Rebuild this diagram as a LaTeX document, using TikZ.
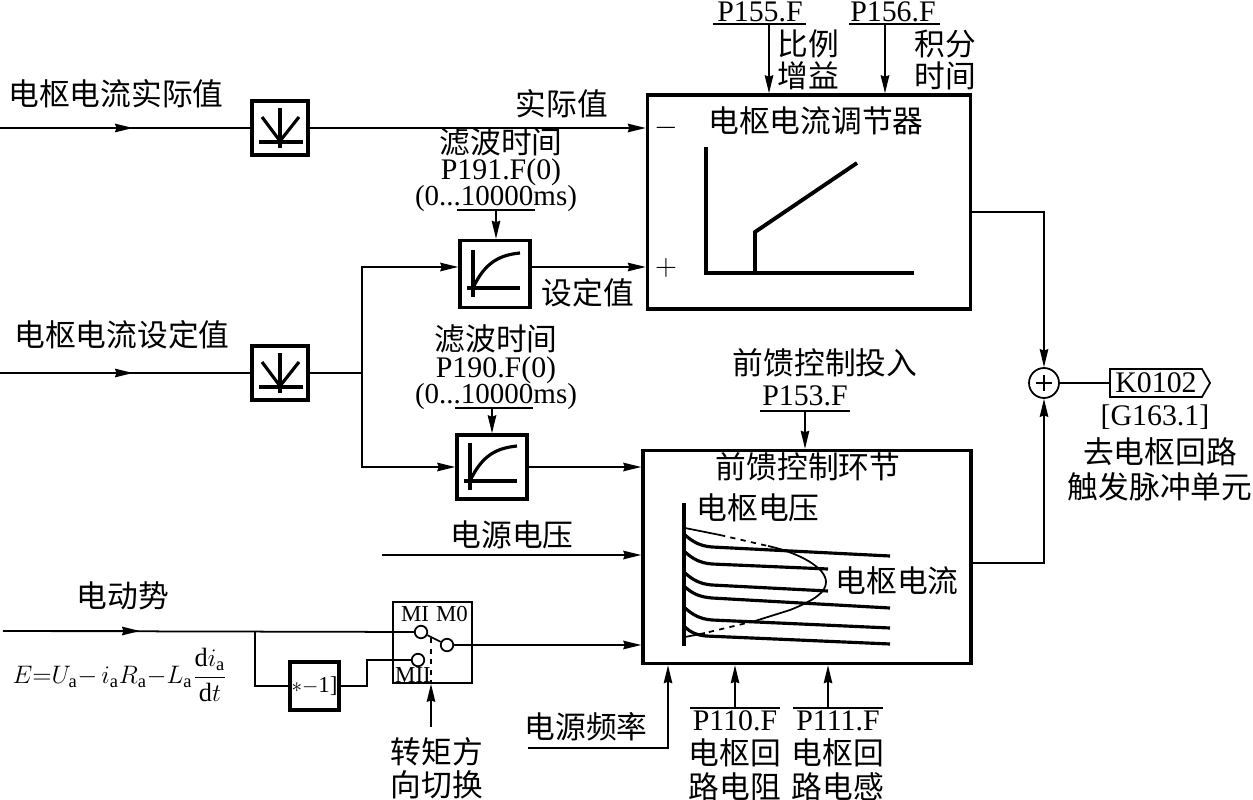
\documentclass[tikz,border=0pt]{standalone}
\usepackage{fontspec}
\setmainfont{Liberation Serif}
\newfontfamily\cjk{Noto Sans CJK SC}
\usetikzlibrary{arrows.meta,shapes.symbols,calc}
\tikzset{
  wire/.style={line width=1pt},
  sig/.style={wire,-{Stealth[length=0.36cm,width=0.17cm,inset=0.03cm]}},
  block/.style={draw,line width=2pt,inner sep=0pt},
  curve/.style={line width=1.8pt},
  zh/.style={inner sep=0pt,font=\cjk\fontsize{17.5}{18}\selectfont},
  lat/.style={inner sep=0pt,font=\fontsize{17}{18}\selectfont},
  param/.style={lat,text height=10.5pt,text depth=3pt},
  spanlabel/.style={param,font=\fontsize{16.5}{17}\selectfont},
  swlabel/.style={inner sep=0pt,font=\fontsize{13}{13}\selectfont},
  contact/.style={draw,circle,wire,fill=white,minimum size=0.25cm,inner sep=0pt},
}
\begin{document}
\begin{tikzpicture}[x=0.02cm,y=-0.02cm]
  \useasboundingbox (0,0) rectangle (1253,800);
  % Blocks
  \node[block,minimum width=1.12cm,minimum height=1.08cm] (adcA) at (280,128) {};
  \node[block,minimum width=1.12cm,minimum height=1.08cm] (adcB) at (280,373) {};
  \node[block,minimum width=1.4cm,minimum height=1.34cm] (filtA) at (495,274) {};
  \node[block,minimum width=1.4cm,minimum height=1.28cm] (filtB) at (492,467) {};
  \node[block,minimum width=6.46cm,minimum height=4.28cm] (reg) at (809,202) {};
  \node[block,minimum width=6.56cm,minimum height=4.26cm] (ff) at (807,557) {};
  \node[draw,wire,minimum width=1.58cm,minimum height=1.62cm] (sw) at (432.5,642.5) {};
  \node[block,minimum width=0.98cm,minimum height=0.96cm,font=\fontsize{13}{13}\selectfont] (neg) at (314.5,686) {${*}{-}$1]};
  \node[draw,wire,circle,minimum size=0.6cm,inner sep=0pt] (sum) at (1044,383) {};
  \node[draw,wire,signal,signal to=east,signal pointer angle=120,lat,inner sep=1.5pt,
        minimum height=0.56cm,minimum width=2cm] (tag) at (1156,383) {K0102};
  \draw[wire] (1036,383) -- (1052,383) (1044,375) -- (1044,391);
  % Block symbols
  \foreach \blk in {adcA,adcB}{
    \draw[curve] ($(\blk)+(0,-20)$) -- ($(\blk)+(0,20)$);
    \draw[curve] ($(\blk)+(-18,-11)$) -- ($(\blk)+(0,13)$) -- ($(\blk)+(19,-11)$);
    \draw[curve] ($(\blk)+(-21,14)$) -- ($(\blk)+(23,14)$);
  }
  \foreach \blk in {filtA,filtB}{
    \draw[curve] ($(\blk)+(-22,-24)$) -- ($(\blk)+(-22,23)$);
    \draw[curve] ($(\blk)+(-28,14)$) -- ($(\blk)+(25,14)$);
    \draw[curve] ($(\blk)+(-22,14)$) .. controls ($(\blk)+(-10,-12)$) and ($(\blk)+(5,-19)$) .. ($(\blk)+(25,-21)$);
  }
  % Regulator curve
  \draw[line width=2.2pt] (706,147) -- (706,273) -- (914,273);
  \draw[line width=2.2pt] (755,273) -- (755,232) -- (857,163);
  % Feedforward curves
  \draw[line width=2.2pt] (684,503) -- (684,646);
  \draw[curve] (685,535) .. controls (693,542) and (700,546) .. (712,547) -- (890,556);
  \draw[curve] (685,552) .. controls (693,559) and (700,563) .. (712,564) -- (828,569);
  \draw[curve] (685,573) .. controls (693,580) and (700,584) .. (712,585) -- (828,591);
  \draw[curve] (685,587) .. controls (693,594) and (700,597) .. (712,598) -- (890,608);
  \draw[curve] (685,608) .. controls (693,615) and (700,619) .. (712,620) -- (890,628);
  \draw[curve] (685,627) .. controls (690,632) and (696,635) .. (706,636) -- (890,644);
  \draw[wire] (685,528) -- (720,535);
  \draw[wire,dashed] (720,535) -- (768,546);
  \draw[wire] (768,546) .. controls (800,553) and (826,568) .. (826,582) .. controls (826,592) and (815,600) .. (790,610) -- (755,621);
  \draw[wire,dashed] (755,621) -- (705,633);
  \draw[wire] (705,633) -- (685,637);
  % Upper signal path
  \coordinate (inA) at (0,128);
  \coordinate (inAm) at (133,128);
  \draw[wire] (inA) -- (adcA);
  \draw[sig] (inA) -- (inAm);
  \draw[sig] (adcA) -- (adcA -| reg.west);
  \node[lat] (minus) at (666,128) {$-$};
  \node[lat] (plus) at (666,268) {$+$};
  % Setpoint path
  \coordinate (inB) at (0,373);
  \coordinate (inBm) at (133,373);
  \coordinate (fork) at (362,373);
  \coordinate (forkA) at (362,267);
  \coordinate (forkB) at (362,467);
  \coordinate (filtAout) at (530,267);
  \draw[wire] (inB) -- (adcB);
  \draw[sig] (inB) -- (inBm);
  \draw[wire] (adcB) -- (fork);
  \draw[sig] (fork) -- (forkA) -- (forkA -| filtA.west);
  \draw[sig] (fork) -- (forkB) -- (forkB -| filtB.west);
  \draw[sig] (filtAout) -- (filtAout -| reg.west);
  \draw[sig] (filtB) -- (filtB -| ff.west);
  % Output path
  \coordinate (regOut) at (970,212);
  \coordinate (ffOut) at (971,563);
  \draw[sig] (regOut) -| (sum.north);
  \draw[sig] (ffOut) -| (sum.south);
  \draw[wire] (sum) -- (tag);
  % Parameter bars
  \coordinate (barL) at (713,24); \coordinate (barR) at (806,24); \coordinate (barA) at (769,24);
  \draw[wire] (barL) -- (barR);
  \draw[sig] (barA) -- (barA |- reg.north);
  \coordinate (bbrL) at (849,24); \coordinate (bbrR) at (940,24); \coordinate (bbrA) at (885,24);
  \draw[wire] (bbrL) -- (bbrR);
  \draw[sig] (bbrA) -- (bbrA |- reg.north);
  \coordinate (fbarL) at (457,210); \coordinate (fbarR) at (535,210); \coordinate (fbarA) at (496,210);
  \draw[wire] (fbarL) -- (fbarR);
  \draw[sig] (fbarA) -- (fbarA |- filtA.north);
  \coordinate (gbarL) at (455,408); \coordinate (gbarR) at (533,408); \coordinate (gbarA) at (492,408);
  \draw[wire] (gbarL) -- (gbarR);
  \draw[sig] (gbarA) -- (gbarA |- filtB.north);
  \coordinate (ebarL) at (760,411); \coordinate (ebarR) at (850,411); \coordinate (ebarA) at (805,411);
  \draw[wire] (ebarL) -- (ebarR);
  \draw[sig] (ebarA) -- (ebarA |- ff.north);
  \coordinate (rbarL) at (690,708); \coordinate (rbarR) at (780,708); \coordinate (rbarA) at (735,708);
  \draw[wire] (rbarL) -- (rbarR);
  \draw[sig] (rbarA) -- (rbarA |- ff.south);
  \coordinate (lbarL) at (793,708); \coordinate (lbarR) at (883,708); \coordinate (lbarA) at (828,708);
  \draw[wire] (lbarL) -- (lbarR);
  \draw[sig] (lbarA) -- (lbarA |- ff.south);
  % Mains inputs
  \coordinate (inV) at (382,555);
  \draw[sig] (inV) -- (inV -| ff.west);
  \coordinate (inF) at (528,748);
  \coordinate (inFc) at (668,748);
  \draw[sig] (inF) -- (inFc) -- (inFc |- ff.south);
  % Switch
  \node[contact] (mI) at (421,632) {};
  \node[contact] (mO) at (447,645) {};
  \node[contact] (mII) at (418,660) {};
  \draw[wire] (mI) -- (mO);
  \coordinate (swLink) at (431,638);
  \coordinate (swIn) at (431,727);
  \draw[wire,dashed] (swLink) -- (swLink |- sw.south);
  \draw[sig] (swIn) -- (swIn |- sw.south);
  \coordinate (inE) at (3,631);
  \coordinate (inEm) at (140,631);
  \coordinate (tap) at (255,631);
  \coordinate (tapD) at (255,686);
  \coordinate (negOut) at (367,686);
  \coordinate (negUp) at (367,660);
  \draw[wire] (inE) -- (mI);
  \draw[sig] (inE) -- (inEm);
  \draw[wire] (tap) -- (tapD) -- (neg);
  \draw[wire] (neg) -- (negOut) -- (negUp) -- (mII);
  \draw[sig] (mO) -- (mO -| ff.west);
  % Texts
  \node[swlabel] (tMI) at (415,614) {MI};
  \node[swlabel] (tMO) at (452,614) {M0};
  \node[swlabel] (tMII) at (413,675) {MII};
  \node[zh] (tInA) at (116,94) {电枢电流实际值};
  \node[zh] (tInB) at (122,335) {电枢电流设定值};
  \node[zh] (tAct) at (562,104) {实际值};
  \node[zh] (tSet) at (588,293) {设定值};
  \node[zh] (tFa) at (501,142) {滤波时间};
  \node[param] (tFb) at (501,173) {P191.F(0)};
  \node[spanlabel] (tFc) at (496,199) {(0...10000ms)};
  \node[zh] (tGa) at (496,339) {滤波时间};
  \node[param] (tGb) at (496,371) {P190.F(0)};
  \node[spanlabel] (tGc) at (496,397) {(0...10000ms)};
  \node[lat] (tPa) at (760,12) {P155.F};
  \node[lat] (tPb) at (893,12) {P156.F};
  \node[zh] (tKa) at (808,44) {比例};
  \node[zh] (tKb) at (808,76) {增益};
  \node[zh] (tTa) at (945,44) {积分};
  \node[zh] (tTb) at (945,76) {时间};
  \node[zh] (tReg) at (816,121) {电枢电流调节器};
  \node[zh] (tEn) at (825,363) {前馈控制投入};
  \node[lat] (tEp) at (805,396) {P153.F};
  \node[zh] (tFf) at (808,467) {前馈控制环节};
  \node[zh] (tVa) at (758,508) {电枢电压};
  \node[zh] (tIa) at (897,581) {电枢电流};
  \node[zh] (tMains) at (512,535) {电源电压};
  \node[zh] (tEmf) at (123,596) {电动势};
  \node[zh] (tFreq) at (586,727) {电源频率};
  \node[lat] (tG) at (1155,417) {[G163.1]};
  \node[zh] (tOa) at (1160,452) {去电枢回路};
  \node[zh] (tOb) at (1160,487) {触发脉冲单元};
  \node[zh] (tDa) at (437,752) {转矩方};
  \node[zh] (tDb) at (437,785) {向切换};
  \node[lat] (tRa) at (735,721) {P110.F};
  \node[zh] (tRb) at (735,753) {电枢回};
  \node[zh] (tRc) at (735,787) {路电阻};
  \node[lat] (tLa) at (838,721) {P111.F};
  \node[zh] (tLb) at (838,753) {电枢回};
  \node[zh] (tLc) at (838,787) {路电感};
  \node[inner sep=0pt,font=\fontsize{15}{15}\selectfont] (tFormula) at (120,675) {$\displaystyle E{=}U_{\mathrm{a}}{-}\,i_{\mathrm{a}}R_{\mathrm{a}}{-}L_{\mathrm{a}}\frac{\mathrm{d}i_{\mathrm{a}}}{\mathrm{d}t}$};
\end{tikzpicture}
\end{document}
